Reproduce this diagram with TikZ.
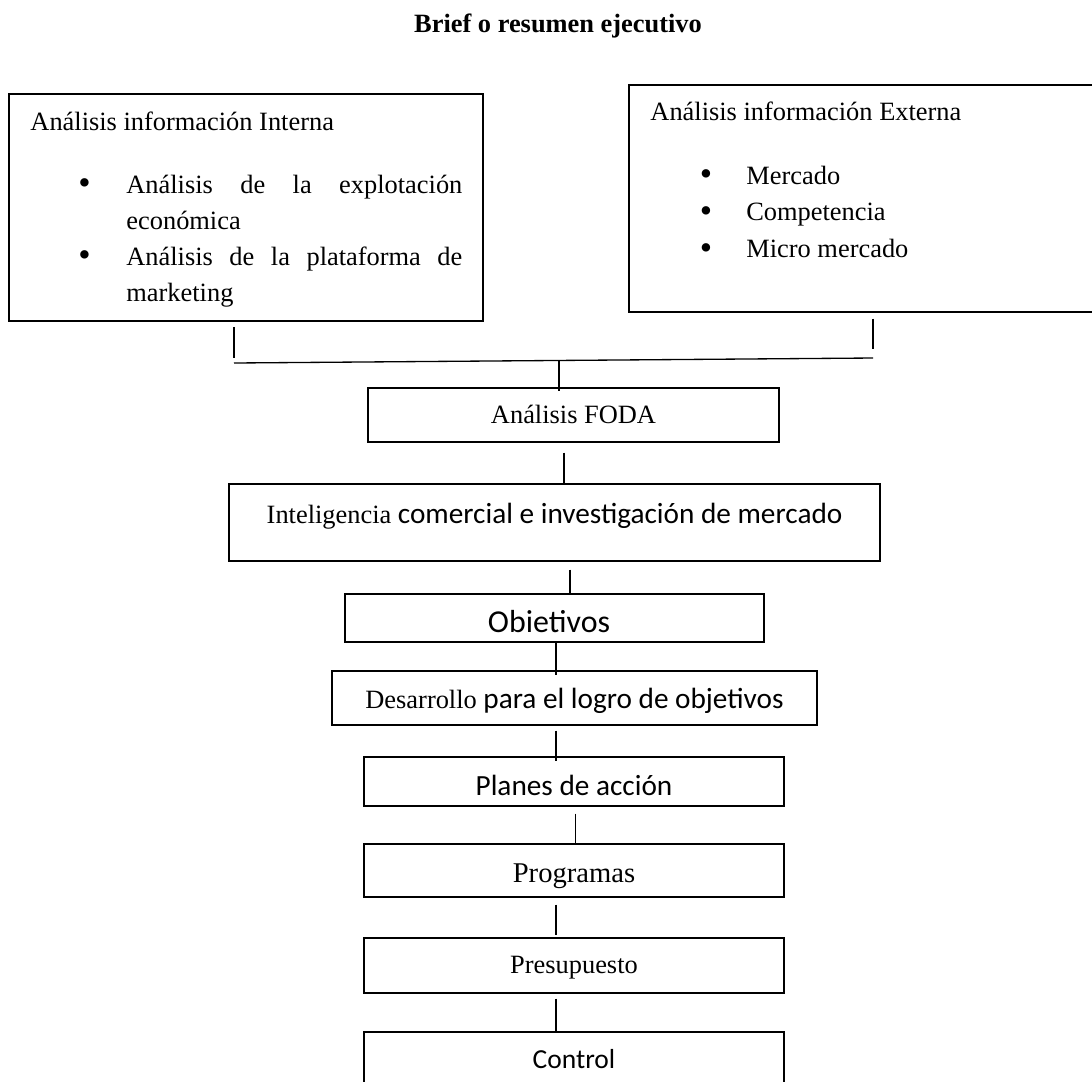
\documentclass[tikz,border=0pt,12pt]{standalone}
\usepackage{fontspec}
\setmainfont{Liberation Serif}
\newfontfamily\calibri{Carlito}
\usetikzlibrary{calc}
\newcommand{\sanstxt}[2]{{\calibri\fontsize{#1}{#1}\selectfont #2}}
\newcommand{\blt}{\raisebox{-0.6pt}{\fontsize{16pt}{16pt}\selectfont\textbullet}}
\tikzset{
  stage/.style={draw, line width=0.6pt, inner sep=0pt, text depth=2.5pt},
  link/.style={line width=0.6pt}
}
\begin{document}
\begin{tikzpicture}[x=0.4545pt, y=-0.4545pt, font=\fontsize{12pt}{14pt}\selectfont]
\useasboundingbox (0,0) rectangle (1092,1081);
%TITLE
  \node (title) [anchor=base, font=\bfseries] at (558,32) {Brief o resumen ejecutivo};

%TOP BOXES
  \node (interna) [stage, minimum width=215.4pt, minimum height=103.2pt] at (246,207.5) {};
  \node (int-head) [anchor=base west, inner sep=0pt] at (30,130) {An\'alisis informaci\'on Interna};
  \node (int-list) [anchor=base west, inner sep=0pt, font=\fontsize{12pt}{16.4pt}\selectfont] at (78,193)
    {\begin{tabular}[t]{@{}p{21.8pt}@{}l@{}}
     \blt & \makebox[152.7pt][s]{An\'alisis de la explotaci\'on}\\
          & econ\'omica\\
     \blt & \makebox[152.7pt][s]{An\'alisis de la plataforma de}\\
          & marketing
     \end{tabular}};

  \node (externa) [stage, minimum width=211.8pt, minimum height=103.2pt] at (862,198.5) {};
  \node (ext-head) [anchor=base west, inner sep=0pt] at (650,120) {An\'alisis informaci\'on Externa};
  \node (ext-list) [anchor=base west, inner sep=0pt, font=\fontsize{12pt}{16.8pt}\selectfont] at (699.5,184)
    {\begin{tabular}[t]{@{}p{21.1pt}@{}l@{}}
     \blt & Mercado\\
     \blt & Competencia\\
     \blt & Micro mercado
     \end{tabular}};

%JOIN
  \coordinate (jl) at (234,363);
  \coordinate (jr) at (873,358);
  \coordinate (jm) at (559,360.5);
  \draw[link, shorten <=2.3pt, shorten >=2.3pt] ($(interna.south)+(-12,0)$) -- (jl);
  \draw[link, shorten <=2.7pt, shorten >=4pt] ($(externa.south)+(11,0)$) -- (jr);
  \draw[link] (jl) -- (jr);

%CHAIN
  \node (foda) [stage, minimum width=186.8pt, minimum height=24.5pt, text height=9.8pt] at (573.5,415) {An\'alisis FODA};
  \node (intel) [stage, minimum width=295.9pt, minimum height=35pt, text height=2.95pt] at (554.5,522.5)
    {Inteligencia \sanstxt{13.3pt}{comercial e investigaci\'on de mercado}};
  \node (obj) [stage, minimum width=190.4pt, minimum height=21.8pt, text height=16.1pt] at (554.5,618)
    {\sanstxt{14.5pt}{Obietivos}\hspace*{5pt}};
  \node (des) [stage, minimum width=220.4pt, minimum height=24.5pt, text height=11.6pt] at (574.5,698)
    {Desarrollo \sanstxt{13.3pt}{para el logro de objetivos}};
  \node (planes) [stage, minimum width=190.9pt, minimum height=22.3pt, text height=14.8pt] at (574,781.5)
    {\sanstxt{13.3pt}{Planes de acci\'on}};
  \node (prog) [stage, minimum width=190.9pt, minimum height=24.1pt, text height=13pt] at (574,870.5)
    {\fontsize{13pt}{13pt}\selectfont Programas};
  \node (pres) [stage, minimum width=190.9pt, minimum height=25pt, text height=10.2pt] at (574,965.5) {Presupuesto};
  \node (ctrl) [stage, minimum width=190.9pt, minimum height=35.5pt, text height=5pt, text depth=7.7pt] at (574,1071)
    {\sanstxt{12.5pt}{Control}};

  \draw[link, shorten >=-1.8pt] (jm) -- (foda.north -| jm);
  \draw[link, shorten <=4.5pt] ($(foda.south)+(-9.5,0)$) -- ($(intel.north)+(9.5,0)$);
  \draw[link, shorten <=3.6pt, shorten >=-0.9pt] ($(intel.south)+(15.5,0)$) -- ($(obj.north)+(15.5,0)$);
  \draw[link, shorten >=-2.3pt] ($(obj.south)+(1.5,0)$) -- ($(des.north)+(-18.5,0)$);
  \draw[link, shorten <=2.3pt, shorten >=-2.3pt] ($(des.south)+(-18.5,0)$) -- ($(planes.north)+(-18,0)$);
  \draw[link, shorten <=3.2pt] ($(planes.south)+(1.5,0)$) -- ($(prog.north)+(1.5,0)$);
  \draw[link, shorten <=3.2pt, shorten >=0.9pt] ($(prog.south)+(-18,0)$) -- ($(pres.north)+(-18,0)$);
  \draw[link, shorten <=2.3pt] ($(pres.south)+(-18,0)$) -- ($(ctrl.north)+(-18,0)$);
\end{tikzpicture}
\end{document}
